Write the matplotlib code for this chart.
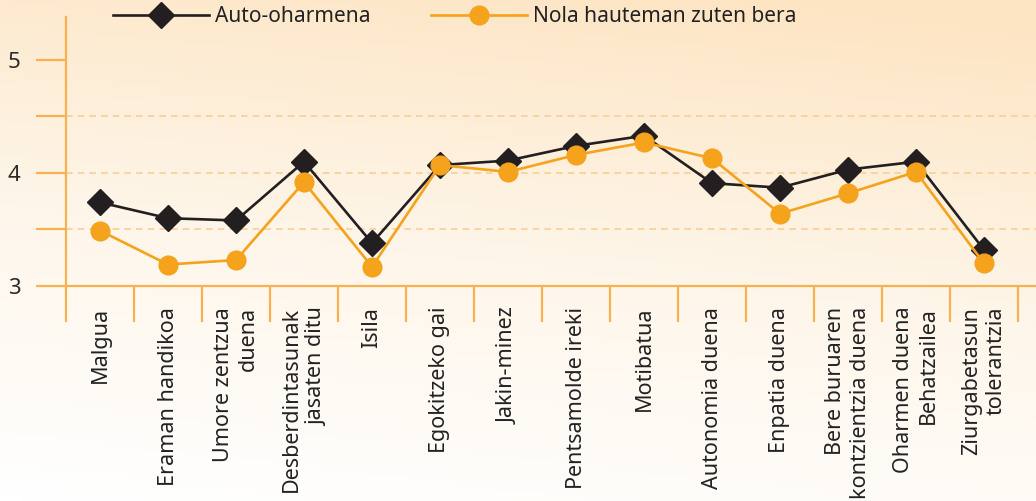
import numpy as np
import matplotlib.pyplot as plt
from matplotlib.colors import LinearSegmentedColormap

categories = ["Malgua", "Eraman handikoa", "Umore zentzua\nduena",
              "Desberdintasunak\njasaten ditu", "Isila", "Egokitzeko gai",
              "Jakin-minez", "Pentsamolde ireki", "Motibatua", "Autonomia duena",
              "Enpatia duena", "Bere buruaren\nkontzientzia duena",
              "Oharmen duena\nBehatzailea", "Ziurgabetasun\ntolerantzia"]
auto = [3.74, 3.60, 3.58, 4.10, 3.38, 4.07, 4.11, 4.24, 4.33, 3.91, 3.87, 4.03, 4.10, 3.32]
nola = [3.49, 3.19, 3.23, 3.92, 3.17, 4.07, 4.01, 4.16, 4.27, 4.13, 3.64, 3.82, 4.01, 3.20]
series_names = ["Auto-oharmena", "Nola hauteman zuten bera"]

black = "#231f20"
orange = "#f5a21c"
axis_col = "#f7b14e"
grid_col = "#f9cf96"

W, H = 1036, 501
fig = plt.figure(figsize=(W / 100, H / 100), dpi=100)

# background gradient (white bottom-left to peach top-right)
bg = fig.add_axes([0, 0, 1, 1], zorder=-10)
gx, gy = np.meshgrid(np.linspace(0, 1, 200), np.linspace(0, 1, 100))
g = np.clip(0.85 * gy + 0.2 * gx, 0, 1)
cmap = LinearSegmentedColormap.from_list("bg", ["#ffffff", "#fef6ea", "#fde5c4"])
bg.imshow(g, cmap=cmap, origin="lower", aspect="auto", extent=[0, 1, 0, 1])
bg.axis("off")

left, right, bottom_px, top_px = 66, 1036, 286, 17
ax = fig.add_axes([left / W, 1 - bottom_px / H, (right - left) / W, (bottom_px - top_px) / H])
ax.patch.set_alpha(0)

x = np.arange(len(categories)) + 0.5
ax.plot(x, auto, color=black, lw=1.9, marker="D", ms=13, mec=black, mfc=black,
        label=series_names[0], zorder=3)
ax.plot(x, nola, color=orange, lw=1.9, marker="o", ms=13.5, mec=orange, mfc=orange,
        label=series_names[1], zorder=4)

ax.set_xlim(0, (right - left) / 68)
ax.set_ylim(3, 3 + (bottom_px - top_px) / 113)

for v in [3.5, 4, 4.5]:
    ax.axhline(v, color=grid_col, lw=1.2, ls=(0, (4, 3)), zorder=1)

for s in ["top", "right"]:
    ax.spines[s].set_visible(False)
for s in ["left", "bottom"]:
    ax.spines[s].set_color(axis_col)
    ax.spines[s].set_linewidth(1.6)

ax.set_yticks([3, 3.5, 4, 4.5, 5])
ax.set_yticklabels(["3", "", "4", "", "5"])
ax.tick_params(axis="y", length=21.6, width=1.6, color=axis_col, pad=11,
               labelsize=16, labelcolor="#2a2a2a")
for t in ax.get_yticklabels():
    t.set_family("Noto Sans")

ax.set_xticks(np.arange(0, len(categories) + 1))
ax.set_xticklabels([])
ax.tick_params(axis="x", which="major", length=26, width=1.6, color=axis_col)
ax.set_xticks(x, minor=True)
ax.set_xticklabels(categories, minor=True, rotation=90, ha="center", va="top",
                   multialignment="right", family="Noto Sans", fontsize=15.5,
                   color="#222222", linespacing=1.25)
ax.tick_params(axis="x", which="minor", length=0, pad=15)

leg = ax.legend(loc="center left", bbox_to_anchor=(113 / W, 1 - 17 / H),
                bbox_transform=fig.transFigure, ncol=2, frameon=False,
                borderpad=0, borderaxespad=0, handlelength=4.6, handletextpad=0.3,
                columnspacing=2.9, numpoints=1,
                prop={"family": "Noto Sans", "size": 15})
for t in leg.get_texts():
    t.set_color("#222222")

fig.savefig("out.png", dpi=100)
